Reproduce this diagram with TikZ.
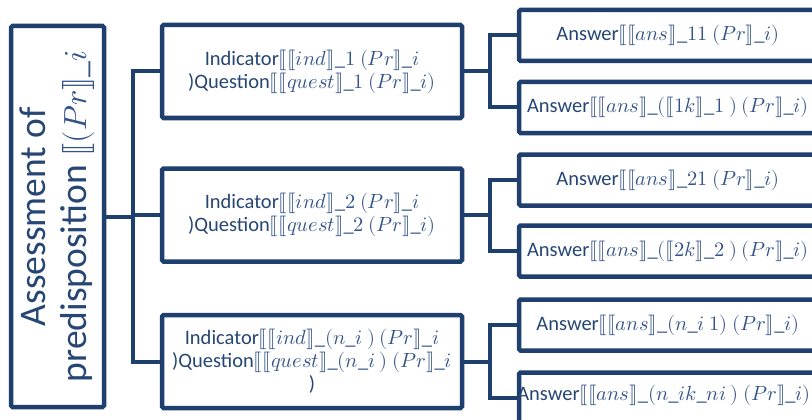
\documentclass[tikz,border=0pt]{standalone}
\usepackage{fontspec}
\usepackage{unicode-math}
\setmainfont{Carlito}
\usetikzlibrary{calc}
\definecolor{navy}{HTML}{1F3F6E}
\definecolor{txt}{HTML}{264674}
\definecolor{mth}{HTML}{34548A}
\newcommand\LB{\lBrack}
\newcommand\RB{\rBrack}
\newcommand\M[1]{\textcolor{mth}{$#1$}}
\tikzset{
  box/.style={draw=navy, line width=4.5pt, rounded corners=1.5pt, fill=white, inner sep=0pt, align=center, text=txt},
  lvone/.style={box, minimum width=300pt, minimum height=93pt, font=\fontsize{20.5}{23}\selectfont},
  ansbox/.style={box, minimum width=298pt, minimum height=51pt},
  conn/.style={draw=navy, line width=4pt},
  lbl/.style={text=txt, align=center, inner sep=0pt, font=\fontsize{20.5}{23}\selectfont}
}
\begin{document}
\begin{tikzpicture}[x=1pt,y=-1pt]
\useasboundingbox (0,0) rectangle (812,420);
\clip (0,0) rectangle (812,420);
% root
\node[box, minimum width=93pt, minimum height=381pt, font=\fontsize{37.5}{41}\selectfont] (root) at (57.5,216.5)
  {\rotatebox{90}{\begin{tabular}{@{}c@{}}Assessment of\\predisposition {\fontsize{32}{41}\selectfont\M{\LB(Pr\RB\_i}}\end{tabular}}};
% level one
\node[lvone] (L1) at (312,71.5) {Indicator\M{\LB\LB ind\RB\_1\ (Pr\RB\_i}\\)Question\M{\LB\LB quest\RB\_1\ (Pr\RB\_i)}};
\node[lvone] (L2) at (312,215) {Indicator\M{\LB\LB ind\RB\_2\ (Pr\RB\_i}\\)Question\M{\LB\LB quest\RB\_2\ (Pr\RB\_i)}};
\node[lvone] (L3) at (312,361.5) {Indicator\M{\LB\LB ind\RB\_(n\_i\ )\ (Pr\RB\_i}\\)Question\M{\LB\LB quest\RB\_(n\_i\ )\ (Pr\RB\_i}\\)};
% answers
\node[ansbox] (A1) at (668,35.5) {};
\node[ansbox] (A2) at (668,107.5) {};
\node[ansbox] (A3) at (668,180) {};
\node[ansbox] (A4) at (668,251) {};
\node[ansbox] (A5) at (668,325) {};
\node[ansbox] (A6) at (668,398) {};
\node[lbl] (t1) at (A1.center) {Answer\M{\LB\LB ans\RB\_11\ (Pr\RB\_i)}};
\node[lbl] (t2) at (A2.center) {Answer\M{\LB\LB ans\RB\_(\LB 1k\RB\_1\ )\ (Pr\RB\_i)}};
\node[lbl] (t3) at (A3.center) {Answer\M{\LB\LB ans\RB\_21\ (Pr\RB\_i)}};
\node[lbl] (t4) at (A4.center) {Answer\M{\LB\LB ans\RB\_(\LB 2k\RB\_2\ )\ (Pr\RB\_i)}};
\node[lbl] (t5) at (A5.center) {Answer\M{\LB\LB ans\RB\_(n\_i\ 1)\ (Pr\RB\_i)}};
\node[lbl] (t6) at ($(A6.center)+(-4,-3)$) {Answer\M{\LB\LB ans\RB\_(n\_ik\_ni\ )\ (Pr\RB\_i)}};
% connectors
\coordinate (tk) at (133,0);
\coordinate (b) at (490,0);
\draw[conn] (root.east) -- (root.east -| tk);
\draw[conn] (L1.west) -| (tk |- L3.west) -- (L3.west);
\draw[conn] (L2.west) -- (L2.west -| tk);
\draw[conn] (L1.east) -- (L1.east -| b);
\draw[conn] (A1.west) -| (b |- A2.west) -- (A2.west);
\draw[conn] (L2.east) -- (L2.east -| b);
\draw[conn] (A3.west) -| (b |- A4.west) -- (A4.west);
\draw[conn] (L3.east) -- (L3.east -| b);
\draw[conn] (A5.west) -| (b |- A6.west) -- (A6.west);
\end{tikzpicture}
\end{document}
